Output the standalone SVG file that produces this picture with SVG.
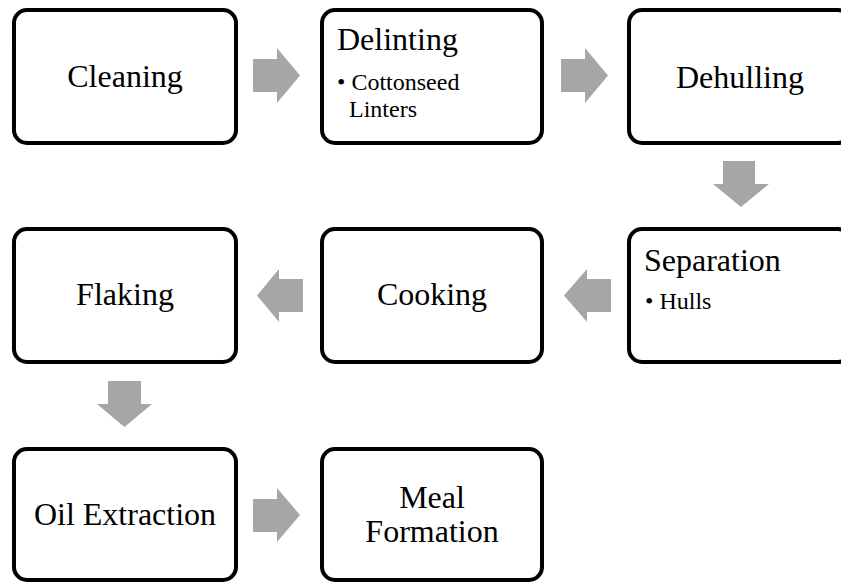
<svg xmlns="http://www.w3.org/2000/svg" width="841" height="583" viewBox="0 0 841 583">
<style>
.box{fill:#fff;stroke:#000;stroke-width:4}
.arr{fill:#a6a6a6}
.t{font-family:"Liberation Serif","Times New Roman",serif;font-size:32px;fill:#000}
.c{text-anchor:middle}
.b{font-family:"Liberation Serif","Times New Roman",serif;font-size:24px;fill:#000}
</style>
<rect width="841" height="583" fill="#fff"/>
<g id="connectors">
<polygon class="arr" points="253,59 277,59 277,48 300,75.5 277,103 277,92 253,92"/>
<polygon class="arr" points="561,59 585,59 585,48 608,75.5 585,103 585,92 561,92"/>
<polygon class="arr" points="723,161 755,161 755,184 769,184 741,207 713,184 723,184"/>
<polygon class="arr" points="611,279 587,279 587,269 564,295.5 587,322 587,312 611,312"/>
<polygon class="arr" points="303,279 279,279 279,269 257,295.5 279,322 279,312 303,312"/>
<polygon class="arr" points="108,381 141,381 141,404 152,404 124.5,427 97,404 108,404"/>
<polygon class="arr" points="253,499 277,499 277,488 300,515 277,542 277,532 253,532"/>
</g>
<g id="cleaning">
<rect class="box" x="14" y="10" width="222" height="133" rx="13"/>
<text class="t c" x="125" y="87">Cleaning</text>
</g>
<g id="delinting">
<rect class="box" x="322" y="10" width="220" height="133" rx="13"/>
<text class="t" x="337" y="50">Delinting</text>
<text class="b" x="337" y="90">• Cottonseed</text>
<text class="b" x="349" y="117">Linters</text>
</g>
<g id="dehulling">
<rect class="box" x="629" y="10" width="222" height="133" rx="13"/>
<text class="t c" x="740" y="88">Dehulling</text>
</g>
<g id="separation">
<rect class="box" x="629" y="229" width="222" height="133" rx="13"/>
<text class="t" x="644" y="271">Separation</text>
<text class="b" x="645" y="309">• Hulls</text>
</g>
<g id="cooking">
<rect class="box" x="322" y="229" width="220" height="133" rx="13"/>
<text class="t c" x="432" y="305">Cooking</text>
</g>
<g id="flaking">
<rect class="box" x="14" y="229" width="222" height="133" rx="13"/>
<text class="t c" x="125" y="305">Flaking</text>
</g>
<g id="oil-extraction">
<rect class="box" x="14" y="449" width="222" height="131" rx="13"/>
<text class="t c" x="125" y="525">Oil Extraction</text>
</g>
<g id="meal-formation">
<rect class="box" x="322" y="449" width="220" height="131" rx="13"/>
<text class="t c" x="432" y="508">Meal</text>
<text class="t c" x="432" y="542">Formation</text>
</g>
</svg>
